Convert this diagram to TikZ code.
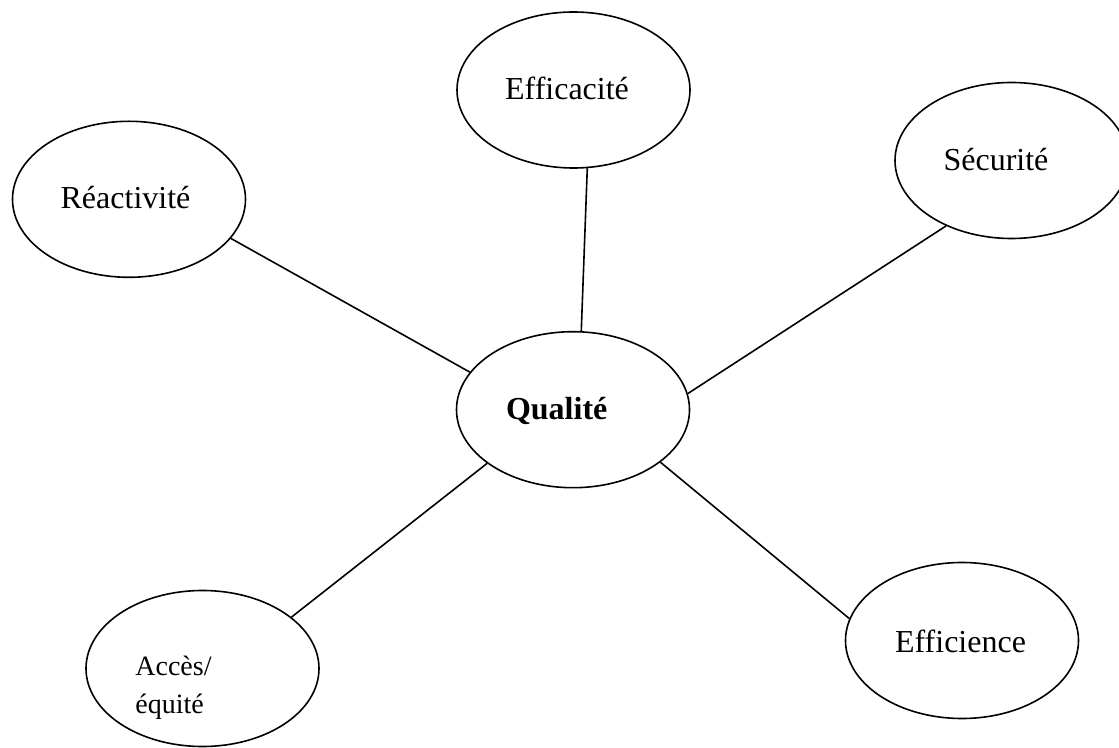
\documentclass[tikz,border=0pt]{standalone}
\usepackage{fontspec}
\setmainfont{Liberation Serif}
\usetikzlibrary{shapes.geometric}
\begin{document}
\begin{tikzpicture}[x=0.5pt,y=-0.5pt,
      every node/.style={inner sep=0pt},
      bubble/.style={ellipse,draw,line width=0.8pt,minimum width=116.5pt,minimum height=78pt},
      txt/.style={anchor=base,font=\fontsize{16}{19}\selectfont},
      small/.style={anchor=base west,align=left,font=\fontsize{14}{19}\selectfont},
      link/.style={draw,line width=0.8pt}
      ]
      \useasboundingbox (0,0) rectangle (1119,748);
      \clip (0,0) rectangle (1119,748);
      % bubbles
      \node[bubble] (qual) at (573,409.7) {};
      \node[bubble] (eff) at (573.5,90) {};
      \node[bubble] (react) at (129,199.3) {};
      \node[bubble] (sec) at (1011.5,160.5) {};
      \node[bubble] (acces) at (202.5,668.5) {};
      \node[bubble] (effic) at (962,640.5) {};
      % texts
      \node[txt,font=\fontsize{16}{19}\selectfont\bfseries] (qualT) at (556.7,419.3) {Qualité};
      \node[txt] (effT) at (567,100) {Efficacité};
      \node[txt] (reactT) at (125.5,209) {Réactivité};
      \node[txt] (secT) at (996,171) {Sécurité};
      \node[txt] (efficT) at (960.5,652) {Efficience};
      \node[small] (accesT) at (135,713) {Accès/\\équité};
      % links
      \draw[link] (eff.-80) -- (qual.84.5);
      \draw[link] (react.-21) -- (qual.160.6);
      \draw[link] (sec.-135) -- (qual.8.2);
      \draw[link] (acces.30.7) -- (qual.212.6);
      \draw[link] (effic.169) -- (qual.-31.5);
\end{tikzpicture}
\end{document}
